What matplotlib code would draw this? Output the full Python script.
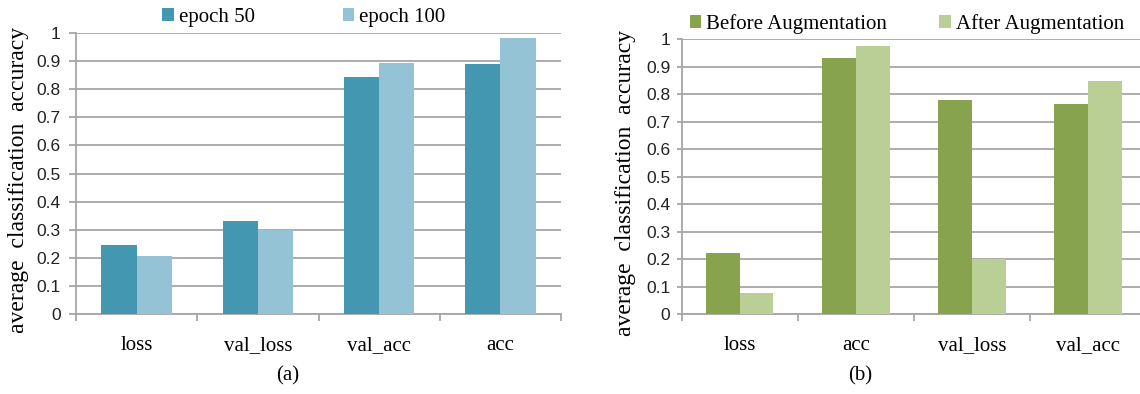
import matplotlib.pyplot as plt
import numpy as np
from matplotlib.ticker import FixedLocator

# panel (a)
cats_a = ['loss', 'val_loss', 'val_acc', 'acc']
epoch50 = [0.247, 0.332, 0.842, 0.888]
epoch100 = [0.205, 0.300, 0.893, 0.982]

# panel (b)
cats_b = ['loss', 'acc', 'val_loss', 'val_acc']
before_aug = [0.222, 0.932, 0.780, 0.762]
after_aug = [0.075, 0.975, 0.200, 0.848]

yticks = [0, 0.1, 0.2, 0.3, 0.4, 0.5, 0.6, 0.7, 0.8, 0.9, 1]
ytick_labels = ['0', '0.1', '0.2', '0.3', '0.4', '0.5', '0.6', '0.7', '0.8', '0.9', '1']

serif = 'Liberation Serif'
sans = 'Liberation Sans'
gridc = '#a6a6a6'

fig = plt.figure(figsize=(11.4, 3.94), dpi=100)


def panel(rect, cats, s1, s2, c1, c2, names, leg_x, colsp, ticklen, tickpad):
    ax = fig.add_axes(rect)
    x = np.arange(len(cats))
    w = 0.29
    ax.bar(x - w / 2, s1, w, color=c1, label=names[0], zorder=3)
    ax.bar(x + w / 2, s2, w, color=c2, label=names[1], zorder=3)
    ax.set_xlim(-0.5, len(cats) - 0.5)
    ax.set_ylim(0, 1)
    ax.set_yticks(yticks)
    ax.set_yticklabels(ytick_labels, fontfamily=sans, fontsize=12.5, color='#222222')
    ax.yaxis.grid(True, color=gridc, lw=1.3, zorder=0)
    ax.tick_params(axis='y', length=ticklen, width=1.3, color=gridc, pad=tickpad)
    ax.set_xticks(x)
    ax.set_xticklabels(cats, fontfamily=serif, fontsize=15)
    ax.tick_params(axis='x', which='major', length=0, pad=16)
    ax.xaxis.set_minor_locator(FixedLocator(np.arange(len(cats) + 1) - 0.5))
    ax.tick_params(axis='x', which='minor', length=5, width=1.3, color=gridc)
    for s in ['top', 'right']:
        ax.spines[s].set_visible(False)
    for s in ['left', 'bottom']:
        ax.spines[s].set_color(gridc)
        ax.spines[s].set_linewidth(1.3)
    ax.legend(loc='center', bbox_to_anchor=(leg_x, 1.055), ncol=2, frameon=False,
              prop={'family': serif, 'size': 15}, handlelength=0.55,
              handleheight=0.55, handletextpad=0.25, columnspacing=colsp,
              borderaxespad=0)
    return ax


panel([0.0667, 0.203, 0.4254, 0.7132], cats_a, epoch50, epoch100,
      '#4397b0', '#94c3d5', ['epoch 50', 'epoch 100'], 0.47, 4.2, 5, 6)
panel([0.598, 0.203, 0.4073, 0.698], cats_b, before_aug, after_aug,
      '#87a34e', '#b9cf95', ['Before Augmentation', 'After Augmentation'], 0.485, 2.5, 3.6, 4.5)

fig.text(0.016, 0.543, 'average  classification  accuracy', rotation=90,
         ha='center', va='center', fontfamily=serif, fontsize=17)
fig.text(0.549, 0.535, 'average  classification  accuracy', rotation=90,
         ha='center', va='center', fontfamily=serif, fontsize=17)
fig.text(0.2526, 0.046, '(a)', ha='center', va='center', fontfamily=serif, fontsize=15)
fig.text(0.7544, 0.046, '(b)', ha='center', va='center', fontfamily=serif, fontsize=15)

plt.savefig('out.png', dpi=100)
